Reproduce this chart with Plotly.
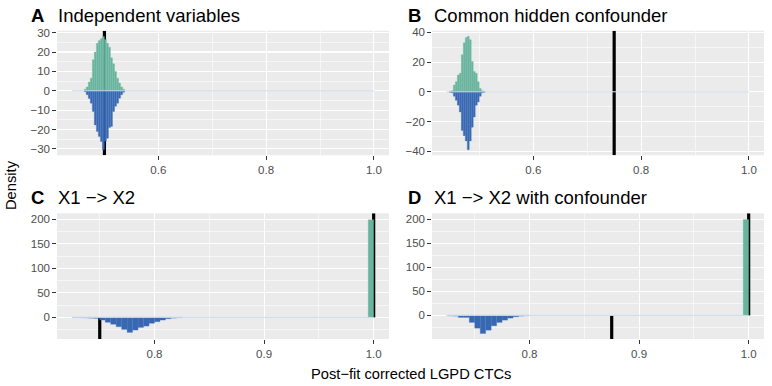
import plotly.graph_objects as go

# ---------------- data ----------------
PANEL_LABELS = ["A", "B", "C", "D"]
PANEL_TITLES = ["Independent variables", "Common hidden confounder",
                "X1 −> X2", "X1 −> X2 with confounder"]
X_TITLE = "Post−fit corrected LGPD CTCs"
Y_TITLE = "Density"

# Panel A
A_WIDTH = 0.00375
A_X = [0.4644, 0.4681, 0.4719, 0.4756, 0.4794, 0.4831, 0.4869, 0.4906, 0.4944, 0.4981,
       0.5019, 0.5056, 0.5094, 0.5131, 0.5169, 0.5206, 0.5244, 0.5281, 0.5319, 0.5356]
A_UP = [0.8, 2.0, 4.5, 6.5, 16, 20, 24.5, 26, 27, 28,
        26.5, 24.5, 22.5, 17, 14, 10, 6.5, 4, 2, 0.8]
A_DOWN = [-0.5, -2, -4, -6.4, -10.7, -17.6, -21, -23.6, -26.2, -30.5,
          -26, -24.5, -19, -18.4, -10.7, -8, -6.4, -3.8, -2, -0.7]

# Panel B
B_WIDTH = 0.0037
B_X = [0.4460, 0.4497, 0.4534, 0.4571, 0.4608, 0.4645, 0.4682, 0.4719, 0.4756,
       0.4793, 0.4830, 0.4867, 0.4904, 0.4941, 0.4978, 0.5015, 0.5052, 0.5089]
B_UP = [0.3, 0.7, 4.5, 6.8, 11.3, 12.5, 25, 33, 36.5, 37.3,
        35, 20.4, 13.6, 12.5, 6.8, 2.3, 0.7, 0.3]
B_DOWN = [-0.3, -0.7, -3, -5.7, -9, -13.6, -26, -29.5, -33, -38.9,
          -33, -23.8, -17, -9, -6.8, -3, -0.7, -0.3]

# Panel C
C_WIDTH = 0.005
C_UP_X = [0.9975]
C_UP = [199]
C_DOWN_X = [0.7275, 0.7325, 0.7375, 0.7425, 0.7475, 0.7525, 0.7575, 0.7625, 0.7675, 0.7725,
            0.7775, 0.7825, 0.7875, 0.7925, 0.7975, 0.8025, 0.8075, 0.8125, 0.8175, 0.8225]
C_DOWN = [-0.3, -0.5, -1.0, -1.5, -2.0, -5.4, -10, -14, -19, -24.5,
          -30.6, -25.8, -20.4, -17.7, -12, -8.8, -5.4, -2.7, -1.4, -0.5]

# Panel D
D_WIDTH = 0.005
D_UP_X = [0.9975]
D_UP = [199]
D_DOWN_X = [0.7275, 0.7325, 0.7375, 0.7425, 0.7475, 0.7525, 0.7575, 0.7625, 0.7675, 0.7725,
            0.7775, 0.7825, 0.7875, 0.7925, 0.7975]
D_DOWN = [-0.8, -1.4, -4.2, -4.2, -14.6, -26.5, -37.6, -30.7, -21.6, -14.6,
          -9.8, -5.6, -2.8, -1.4, -0.5]

# range of the (mostly empty) lower histogram drawn at zero
ZERO_LINE_START = [0.440, 0.439, 0.725, 0.724]
ZERO_LINE_END = [1.0, 1.0, 1.0, 1.0]

# true values (upper = green half, lower = blue half)
TRUE_UPPER = [0.5, 0.75, 1.0, 1.0]
TRUE_LOWER = [0.5, 0.75, 0.75, 0.875]

X_RANGES = [[0.412, 1.028], [0.412, 1.028], [0.711, 1.014], [0.711, 1.014]]
Y_RANGES = [[-33.3, 31.0], [-42.7, 41.1], [-44, 212], [-49, 212]]
X_TICK0 = [0.6, 0.6, 0.8, 0.8]
X_DTICK = [0.2, 0.2, 0.1, 0.1]
Y_DTICK = [10, 20, 50, 50]

panels = [
    (A_X, A_UP, A_WIDTH, A_X, A_DOWN, A_WIDTH),
    (B_X, B_UP, B_WIDTH, B_X, B_DOWN, B_WIDTH),
    (C_UP_X, C_UP, C_WIDTH, C_DOWN_X, C_DOWN, C_WIDTH),
    (D_UP_X, D_UP, D_WIDTH, D_DOWN_X, D_DOWN, D_WIDTH),
]

# ---------------- styling / layout ----------------
W, H = 772, 386
GREEN = "#68B49D"
GREEN_EDGE = "#78BCA7"
BLUE = "#3868B2"
BLUE_EDGE = "#4874BA"
ZERO_COL = "#C9DCEE"
FONT = "Liberation Sans, Arial, Helvetica, sans-serif"

XDOM = [[57 / W, 389 / W], [432 / W, 764 / W], [57 / W, 389 / W], [432 / W, 764 / W]]
YDOM = [[1 - 155.3 / H, 1 - 30.7 / H], [1 - 155.3 / H, 1 - 30.7 / H],
        [1 - 339 / H, 1 - 213.3 / H], [1 - 339 / H, 1 - 213.3 / H]]

fig = go.Figure()
layout = dict(
    width=W, height=H,
    margin=dict(l=0, r=0, t=0, b=0),
    paper_bgcolor="white", plot_bgcolor="#EBEBEB",
    showlegend=False, barmode="overlay", bargap=0,
    font=dict(family=FONT, color="#4D4D4D"),
)
shapes = []

for i in range(4):
    sfx = "" if i == 0 else str(i + 1)
    xa, ya = "x" + sfx, "y" + sfx
    ux, uy, uw, dx, dy, dw = panels[i]
    ymin, ymax = Y_RANGES[i]

    # true values, drawn between grid and histograms
    shapes.append(dict(type="line", xref=xa, yref=ya, layer="between",
                       x0=TRUE_UPPER[i], x1=TRUE_UPPER[i], y0=0, y1=ymax,
                       line=dict(color="black", width=3.2)))
    shapes.append(dict(type="line", xref=xa, yref=ya, layer="between",
                       x0=TRUE_LOWER[i], x1=TRUE_LOWER[i], y0=ymin, y1=0,
                       line=dict(color="black", width=3.2)))

    # histograms
    fig.add_trace(go.Bar(x=ux, y=uy, width=[uw] * len(ux),
                         marker=dict(color=GREEN, line=dict(color=GREEN_EDGE, width=0.3)),
                         xaxis=xa, yaxis=ya))
    fig.add_trace(go.Bar(x=dx, y=dy, width=[dw] * len(dx),
                         marker=dict(color=BLUE, line=dict(color=BLUE_EDGE, width=0.3)),
                         xaxis=xa, yaxis=ya))
    # light zero line (empty bins of lower histogram)
    fig.add_trace(go.Scatter(x=[ZERO_LINE_START[i], ZERO_LINE_END[i]], y=[0, 0],
                             mode="lines", line=dict(color=ZERO_COL, width=1.0),
                             xaxis=xa, yaxis=ya, hoverinfo="skip"))

    layout["xaxis" + sfx] = dict(
        domain=XDOM[i], range=X_RANGES[i], anchor=ya,
        tickmode="linear", tick0=X_TICK0[i], dtick=X_DTICK[i], tickformat=".1f",
        ticks="outside", ticklen=3.7, tickwidth=1, tickcolor="#333333",
        tickfont=dict(size=11.5, color="#4D4D4D"),
        showgrid=True, gridcolor="white", gridwidth=1.07,
        minor=dict(tickmode="linear", tick0=X_TICK0[i], dtick=X_DTICK[i] / 2,
                   showgrid=True, gridcolor="white", gridwidth=0.53, ticks=""),
        zeroline=False, showline=False, automargin=False, fixedrange=True,
    )
    layout["yaxis" + sfx] = dict(
        domain=YDOM[i], range=Y_RANGES[i], anchor=xa,
        tickmode="linear", tick0=0, dtick=Y_DTICK[i],
        ticks="outside", ticklen=3.7, tickwidth=1, tickcolor="#333333",
        tickfont=dict(size=11.5, color="#4D4D4D"),
        showgrid=True, gridcolor="white", gridwidth=1.07,
        minor=dict(tickmode="linear", tick0=0, dtick=Y_DTICK[i] / 2,
                   showgrid=True, gridcolor="white", gridwidth=0.53, ticks=""),
        zeroline=False, showline=False, automargin=False, fixedrange=True,
    )

layout["shapes"] = shapes
fig.update_layout(**layout)

# panel labels and titles
LABEL_X = [29 / W, 406 / W, 29 / W, 406 / W]
TITLE_X = [56 / W, 432 / W, 56 / W, 432 / W]
TITLE_Y = [1 - 15 / H, 1 - 15 / H, 1 - 197 / H, 1 - 197 / H]
for i in range(4):
    fig.add_annotation(x=LABEL_X[i], y=TITLE_Y[i], xref="paper", yref="paper",
                       text="<b>" + PANEL_LABELS[i] + "</b>", showarrow=False,
                       xanchor="left", yanchor="middle",
                       font=dict(size=18.5, color="black", family=FONT))
    fig.add_annotation(x=TITLE_X[i], y=TITLE_Y[i], xref="paper", yref="paper",
                       text=PANEL_TITLES[i], showarrow=False,
                       xanchor="left", yanchor="middle",
                       font=dict(size=18.5, color="black", family=FONT))

fig.add_annotation(x=410.5 / W, y=1 - 374 / H, xref="paper", yref="paper",
                   text=X_TITLE, showarrow=False, xanchor="center", yanchor="middle",
                   font=dict(size=14.7, color="black", family=FONT))
fig.add_annotation(x=11 / W, y=1 - 185 / H, xref="paper", yref="paper",
                   text=Y_TITLE, showarrow=False, textangle=-90,
                   xanchor="center", yanchor="middle",
                   font=dict(size=14.7, color="black", family=FONT))

fig.write_html("out.html", config={"displayModeBar": False, "staticPlot": True},
               post_script="document.body.style.margin='0';document.body.style.padding='0';")
